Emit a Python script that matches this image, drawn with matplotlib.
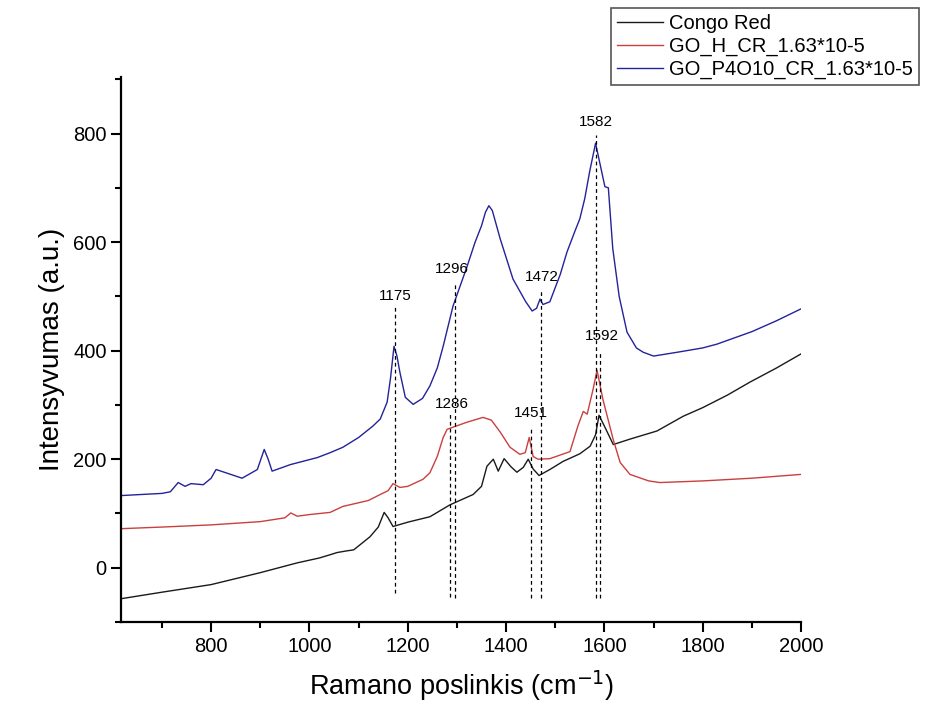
import matplotlib
matplotlib.use('Agg')
import matplotlib.pyplot as plt
from matplotlib.ticker import MultipleLocator

plt.rcParams['font.family'] = ['Liberation Sans', 'DejaVu Sans']

# --- data ---
cr_x = [617, 700, 800, 900, 975, 1020, 1042, 1056, 1075, 1090, 1123, 1140, 1152, 1160, 1170,
        1200, 1245, 1286, 1333, 1350, 1361, 1374, 1384, 1396, 1410, 1422, 1435, 1445, 1455,
        1467, 1489, 1516, 1550, 1571, 1582, 1589, 1601, 1618, 1652, 1707, 1760, 1800, 1850,
        1896, 1950, 2000]
cr_y = [-57, -45, -31, -9, 9, 18, 24, 28, 31, 33, 57, 75, 102, 92, 76,
        84, 94, 116, 135, 150, 187, 200, 178, 201, 186, 176, 185, 200, 182,
        170, 181, 196, 210, 224, 245, 281, 259, 227, 237, 252, 279, 295, 318,
        342, 368, 394]

h_x = [617, 700, 800, 900, 950, 962, 975, 1000, 1042, 1068, 1120, 1144, 1160, 1170, 1184,
       1200, 1231, 1245, 1260, 1272, 1280, 1292, 1320, 1353, 1370, 1388, 1408, 1428, 1439,
       1447, 1455, 1465, 1489, 1530, 1546, 1557, 1565, 1577, 1585, 1597, 1618, 1632, 1652,
       1690, 1713, 1800, 1900, 2000]
h_y = [72, 75, 79, 85, 92, 101, 95, 98, 102, 113, 124, 135, 142, 155, 148,
       150, 163, 175, 205, 240, 255, 259, 268, 277, 272, 250, 222, 209, 212,
       240, 205, 200, 201, 214, 261, 288, 283, 329, 364, 310, 236, 194, 172,
       160, 157, 160, 165, 172]

p_x = [617, 700, 717, 733, 747, 759, 784, 800, 810, 830, 863, 894, 908, 916, 924,
       961, 1016, 1042, 1068, 1100, 1129, 1144, 1158, 1165, 1172, 1178, 1184, 1195, 1211,
       1230, 1245, 1260, 1272, 1292, 1321, 1337, 1350, 1358, 1365, 1372, 1388, 1414, 1440,
       1453, 1462, 1469, 1475, 1489, 1510, 1524, 1540, 1550, 1560, 1570, 1582, 1592, 1601,
       1608, 1617, 1630, 1646, 1665, 1679, 1700, 1748, 1800, 1829, 1900, 1950, 2000]
p_y = [133, 137, 140, 157, 150, 155, 153, 165, 181, 175, 165, 181, 218, 200, 178,
       190, 203, 212, 222, 240, 261, 274, 305, 350, 408, 390, 360, 314, 301,
       312, 335, 368, 408, 482, 556, 600, 630, 655, 667, 658, 606, 532, 490,
       473, 478, 495, 485, 490, 540, 582, 620, 643, 680, 730, 782, 740, 702,
       700, 588, 500, 434, 405, 397, 390, 397, 405, 412, 435, 455, 477]

series_labels = ['Congo Red', 'GO_H_CR_1.63*10-5', 'GO_P4O10_CR_1.63*10-5']

# marked peaks: position, top of the dashed line, bottom, label height
peak_pos = [1175, 1286, 1296, 1451, 1472, 1582, 1592]
peak_top = [480, 283, 527, 259, 512, 797, 397]
peak_bot = [-46, -53, -55, -55, -55, -55, -55]
peak_lab_y = [501, 301, 551, 286, 536, 821, 427]
peak_lab_x = [1175, 1290, 1290, 1451, 1472, 1582, 1594]

fig = plt.figure(figsize=(9.25, 7.15), dpi=100)
ax = fig.add_axes([0.131, 0.130, 0.735, 0.763])

l1, = ax.plot(cr_x, cr_y, color='#1a1a1a', lw=1.0)
l2, = ax.plot(h_x, h_y, color='#c9403f', lw=1.0)
l3, = ax.plot(p_x, p_y, color='#23239a', lw=1.0)

ax.vlines(peak_pos, peak_bot, peak_top, colors='black', linestyles=(0, (3, 2.5)), lw=0.9)
for xl, yl, p in zip(peak_lab_x, peak_lab_y, peak_pos):
    ax.text(xl, yl, str(p), ha='center', va='center', fontsize=11)

ax.set_xlim(617, 2000)
ax.set_ylim(-100, 905)
ax.xaxis.set_major_locator(MultipleLocator(200))
ax.xaxis.set_minor_locator(MultipleLocator(100))
ax.yaxis.set_major_locator(MultipleLocator(200))
ax.yaxis.set_minor_locator(MultipleLocator(100))
ax.set_xticks([800, 1000, 1200, 1400, 1600, 1800, 2000])

for s in ['top', 'right']:
    ax.spines[s].set_visible(False)
for s in ['left', 'bottom']:
    ax.spines[s].set_linewidth(1.6)
ax.tick_params(which='major', direction='out', length=7, width=1.5, labelsize=14.5)
ax.tick_params(which='minor', direction='out', length=4, width=1.5)

ax.set_xlabel('Ramano poslinkis (cm$^{-1}$)', fontsize=19.5, labelpad=9)
ax.set_ylabel('Intensyvumas (a.u.)', fontsize=20, labelpad=6)

leg = fig.legend([l1, l2, l3], series_labels, loc='upper right',
                 bbox_to_anchor=(0.998, 0.995), fontsize=14.5, frameon=True,
                 fancybox=False, edgecolor='#555555', framealpha=1,
                 handlelength=2.3, handletextpad=0.3, borderpad=0.3,
                 labelspacing=0.2, borderaxespad=0.2)
leg.get_frame().set_linewidth(1.2)

fig.savefig('out.png', dpi=100)
